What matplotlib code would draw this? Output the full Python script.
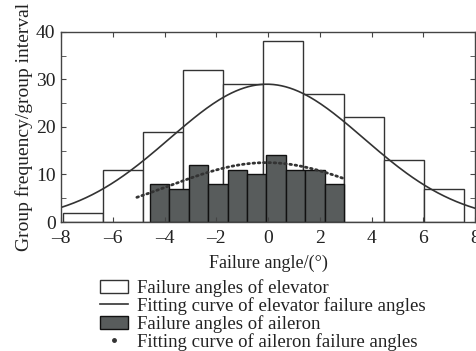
import numpy as np
import matplotlib.pyplot as plt
from matplotlib.patches import Patch
from matplotlib.lines import Line2D

plt.rcParams['font.family'] = ['Liberation Serif', 'DejaVu Serif']

# histogram of elevator failure angles
elev_start = -7.92
elev_width = 1.548
elev_counts = [2, 11, 19, 32, 29, 38, 27, 22, 13, 7]

# histogram of aileron failure angles
ail_start = -4.56
ail_width = 0.749
ail_counts = [8, 7, 12, 8, 11, 10, 14, 11, 11, 8]

# normal fits: (peak, mean, sigma, x range)
elev_fit = (29.0, -0.05, 3.75, (-8.0, 8.0))
ail_fit = (12.5, -0.06, 3.78, (-5.07, 3.0))

x_ticks = [-8, -6, -4, -2, 0, 2, 4, 6, 8]
x_ticklabels = ['\u20138', '\u20136', '\u20134', '\u20132', '0', '2', '4', '6', '8']


def gauss_curve(fit, n=200):
    peak, mu, sigma, (x0, x1) = fit
    x = np.linspace(x0, x1, n)
    return x, peak * np.exp(-(x - mu) ** 2 / (2 * sigma ** 2))


fig = plt.figure(figsize=(4.77, 3.51), dpi=100)
ax = fig.add_axes([0.128, 0.3675, 0.868, 0.5415])

elev_x = elev_start + elev_width * np.arange(len(elev_counts))
ail_x = ail_start + ail_width * np.arange(len(ail_counts))

ax.bar(elev_x, elev_counts, width=elev_width, align='edge',
       facecolor='white', edgecolor='#333333', linewidth=1.0)
ax.bar(ail_x, ail_counts, width=ail_width, align='edge',
       facecolor='#585c5c', edgecolor='#111111', linewidth=1.0)

x, y = gauss_curve(elev_fit)
ax.plot(x, y, color='#333333', linewidth=1.2)
x, y = gauss_curve(ail_fit)
ax.plot(x, y, color='#333333', linewidth=2.0, linestyle=(0, (0.6, 1.3)),
        dash_capstyle='round')

ax.set_xlim(-8, 8)
ax.set_ylim(0, 40)
ax.set_xticks(x_ticks)
ax.set_xticklabels(x_ticklabels)
ax.set_yticks([0, 10, 20, 30, 40])
ax.set_yticks(np.arange(0, 41, 5), minor=True)
ax.tick_params(direction='in', top=True, right=True, length=3.5,
               labelsize=14, color='#444444', labelcolor='#222222')
ax.tick_params(axis='x', pad=6)
ax.tick_params(axis='y', pad=4)
ax.tick_params(which='minor', direction='in', right=True, length=3.5,
               color='#444444')
for s in ax.spines.values():
    s.set_color('#444444')
    s.set_linewidth(1.0)

ax.set_xlabel('Failure angle/(\u00b0)', fontsize=13, labelpad=5, color='#222222')
ax.set_ylabel('Group frequency/group interval', fontsize=14, labelpad=2,
              color='#222222')

handles = [
    Patch(facecolor='white', edgecolor='#333333', linewidth=1.0),
    Line2D([], [], color='#333333', linewidth=1.2),
    Patch(facecolor='#585c5c', edgecolor='#111111', linewidth=1.0),
    Line2D([], [], color='#333333', marker='o', markersize=2.5, linestyle='none'),
]
labels = ['Failure angles of elevator',
          'Fitting curve of elevator failure angles',
          'Failure angles of aileron',
          'Fitting curve of aileron failure angles']
leg = fig.legend(handles, labels, loc='upper left', bbox_to_anchor=(0.209, 0.205),
                 frameon=False, fontsize=13.5, handlelength=1.5, handleheight=0.7,
                 handletextpad=0.5, labelspacing=0.0, borderpad=0, borderaxespad=0)
for t in leg.get_texts():
    t.set_color('#222222')

fig.savefig('out.png', dpi=100)
